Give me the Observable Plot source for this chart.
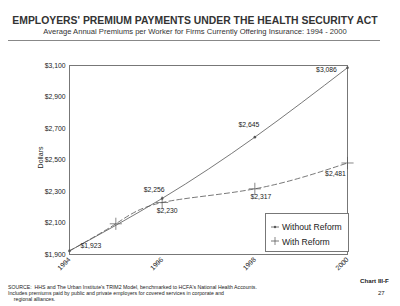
<!DOCTYPE html>
<html>
<head>
<meta charset="utf-8">
<script src="https://cdn.jsdelivr.net/npm/d3@7"></script>
<script src="https://cdn.jsdelivr.net/npm/@observablehq/plot@0.6"></script>
<style>
  html, body { margin: 0; padding: 0; background: #fff; }
  #wrap { position: relative; width: 400px; height: 306px; overflow: hidden; font-family: "Liberation Sans", Arial, sans-serif; color: #222; }
  #wrap svg { position: absolute; left: 0; top: 0; }
  .abs { position: absolute; white-space: nowrap; }
  #title { left: 0; width: 390px; top: 15px; text-align: center; font-size: 10.4px; font-weight: bold; color: #333; }
  #subtitle { left: 0; width: 390px; top: 27px; text-align: center; font-size: 7.6px; color: #333; }
  #rule { left: 8px; top: 40px; width: 372px; height: 0; border-top: 1px solid #888; }
  #ylab { left: 30px; top: 154px; font-size: 7px; transform: rotate(-90deg); transform-origin: center; }
  #legend { left: 265px; top: 213px; width: 84px; height: 39px; border: 1px solid #777; background: #fff; box-sizing: border-box; }
  .lg { position: absolute; font-size: 8.6px; left: 16px; }
  #source { left: 8px; top: 284px; font-size: 5.2px; line-height: 6px; }
  #chart { left: 360px; top: 277px; font-size: 6.2px; font-weight: bold; }
  #page { left: 378px; top: 290px; font-size: 6px; }
</style>
</head>
<body>
<div id="wrap"></div>
<script>
// Data
const yearsWithout = [1994, 1996, 1998, 2000];
const valuesWithout = [1923, 2256, 2645, 3086];
const yearsWith = [1994, 1995, 1996, 1998, 2000];
const valuesWith = [1923, 2095, 2230, 2317, 2481];
const yTicks = [1900, 2100, 2300, 2500, 2700, 2900, 3100];
const xTicks = [1994, 1996, 1998, 2000];
const seriesNames = ["Without Reform", "With Reform"];

const without = yearsWithout.map((y, i) => ({year: y, value: valuesWithout[i]}));
const withR = yearsWith.map((y, i) => ({year: y, value: valuesWith[i]}));
const fmt = d3.format("$,");
const lbl = (arr, yr) => arr.filter(d => d.year === yr);

const ink = "#555";
const txt = {fontSize: 6.8, fill: "#222", fontFamily: "Liberation Sans, Arial, sans-serif", text: d => fmt(d.value)};

const plot = Plot.plot({
  width: 400,
  height: 306,
  marginLeft: 69,
  marginRight: 53,
  marginTop: 65,
  marginBottom: 52,
  style: {fontFamily: "Liberation Sans, Arial, sans-serif", background: "transparent", color: "#222"},
  x: {domain: [1994, 2000]},
  y: {domain: [1900, 3100]},
  marks: [
    Plot.frame({stroke: "#777", strokeWidth: 1}),
    Plot.axisY({ticks: yTicks, tickFormat: fmt, tickSize: 0, tickPadding: 4, fontSize: 6.8, label: null}),
    Plot.axisX({ticks: xTicks, tickFormat: "d", tickSize: 0, tickRotate: -45, tickPadding: 4, fontSize: 6.8, label: null}),
    Plot.line(without, {x: "year", y: "value", stroke: ink, strokeWidth: 0.8, curve: "natural"}),
    Plot.line(withR, {x: "year", y: "value", stroke: ink, strokeWidth: 0.8, strokeDasharray: "5,3", curve: "natural"}),
    Plot.dot(without, {x: "year", y: "value", r: 1.3, fill: ink, stroke: "none"}),
    Plot.dot(withR.filter(d => d.year !== 1994), {x: "year", y: "value", symbol: "plus", r: 4, stroke: ink, strokeWidth: 0.7}),
    Plot.text(lbl(without, 1994), {x: "year", y: "value", ...txt, textAnchor: "start", dx: 11, dy: -5}),
    Plot.text(lbl(without, 1996), {x: "year", y: "value", ...txt, dx: -8, dy: -9}),
    Plot.text(lbl(without, 1998), {x: "year", y: "value", ...txt, dx: -6, dy: -12}),
    Plot.text(lbl(without, 2000), {x: "year", y: "value", ...txt, dx: -21, dy: 2}),
    Plot.text(lbl(withR, 1996), {x: "year", y: "value", ...txt, dx: 5, dy: 8}),
    Plot.text(lbl(withR, 1998), {x: "year", y: "value", ...txt, dx: 6, dy: 8}),
    Plot.text(lbl(withR, 2000), {x: "year", y: "value", ...txt, dx: -12, dy: 11})
  ]
});

const wrap = document.getElementById("wrap");
wrap.appendChild(plot);

function add(id, html) {
  const d = document.createElement("div");
  d.className = "abs"; d.id = id; d.innerHTML = html;
  wrap.appendChild(d);
  return d;
}
add("title", "EMPLOYERS' PREMIUM PAYMENTS UNDER THE HEALTH SECURITY ACT");
add("subtitle", "Average Annual Premiums per Worker for Firms Currently Offering Insurance: 1994 - 2000");
add("rule", "");
add("ylab", "Dollars");
const leg = add("legend", "");
leg.innerHTML =
  `<svg width="84" height="39" style="position:absolute;left:0;top:0">
     <line x1="5" x2="13" y1="13" y2="13" stroke="${ink}" stroke-width="0.8"/>
     <circle cx="9" cy="13" r="1.2" fill="${ink}"/>
     <line x1="5" x2="13" y1="27" y2="27" stroke="${ink}" stroke-width="0.8"/>
     <line x1="9" x2="9" y1="23" y2="31" stroke="${ink}" stroke-width="0.7"/>
   </svg>
   <div class="lg" style="top:8px">${seriesNames[0]}</div>
   <div class="lg" style="top:23px">${seriesNames[1]}</div>`;
add("source", "SOURCE:&nbsp; HHS and The Urban Institute's TRIM2 Model, benchmarked to HCFA's National Health Accounts.<br>Includes premiums paid by public and private employers for covered services in corporate and<br>&nbsp;&nbsp;&nbsp;&nbsp;regional alliances.");
add("chart", "Chart III-F");
add("page", "27");
</script>
</body>
</html>
